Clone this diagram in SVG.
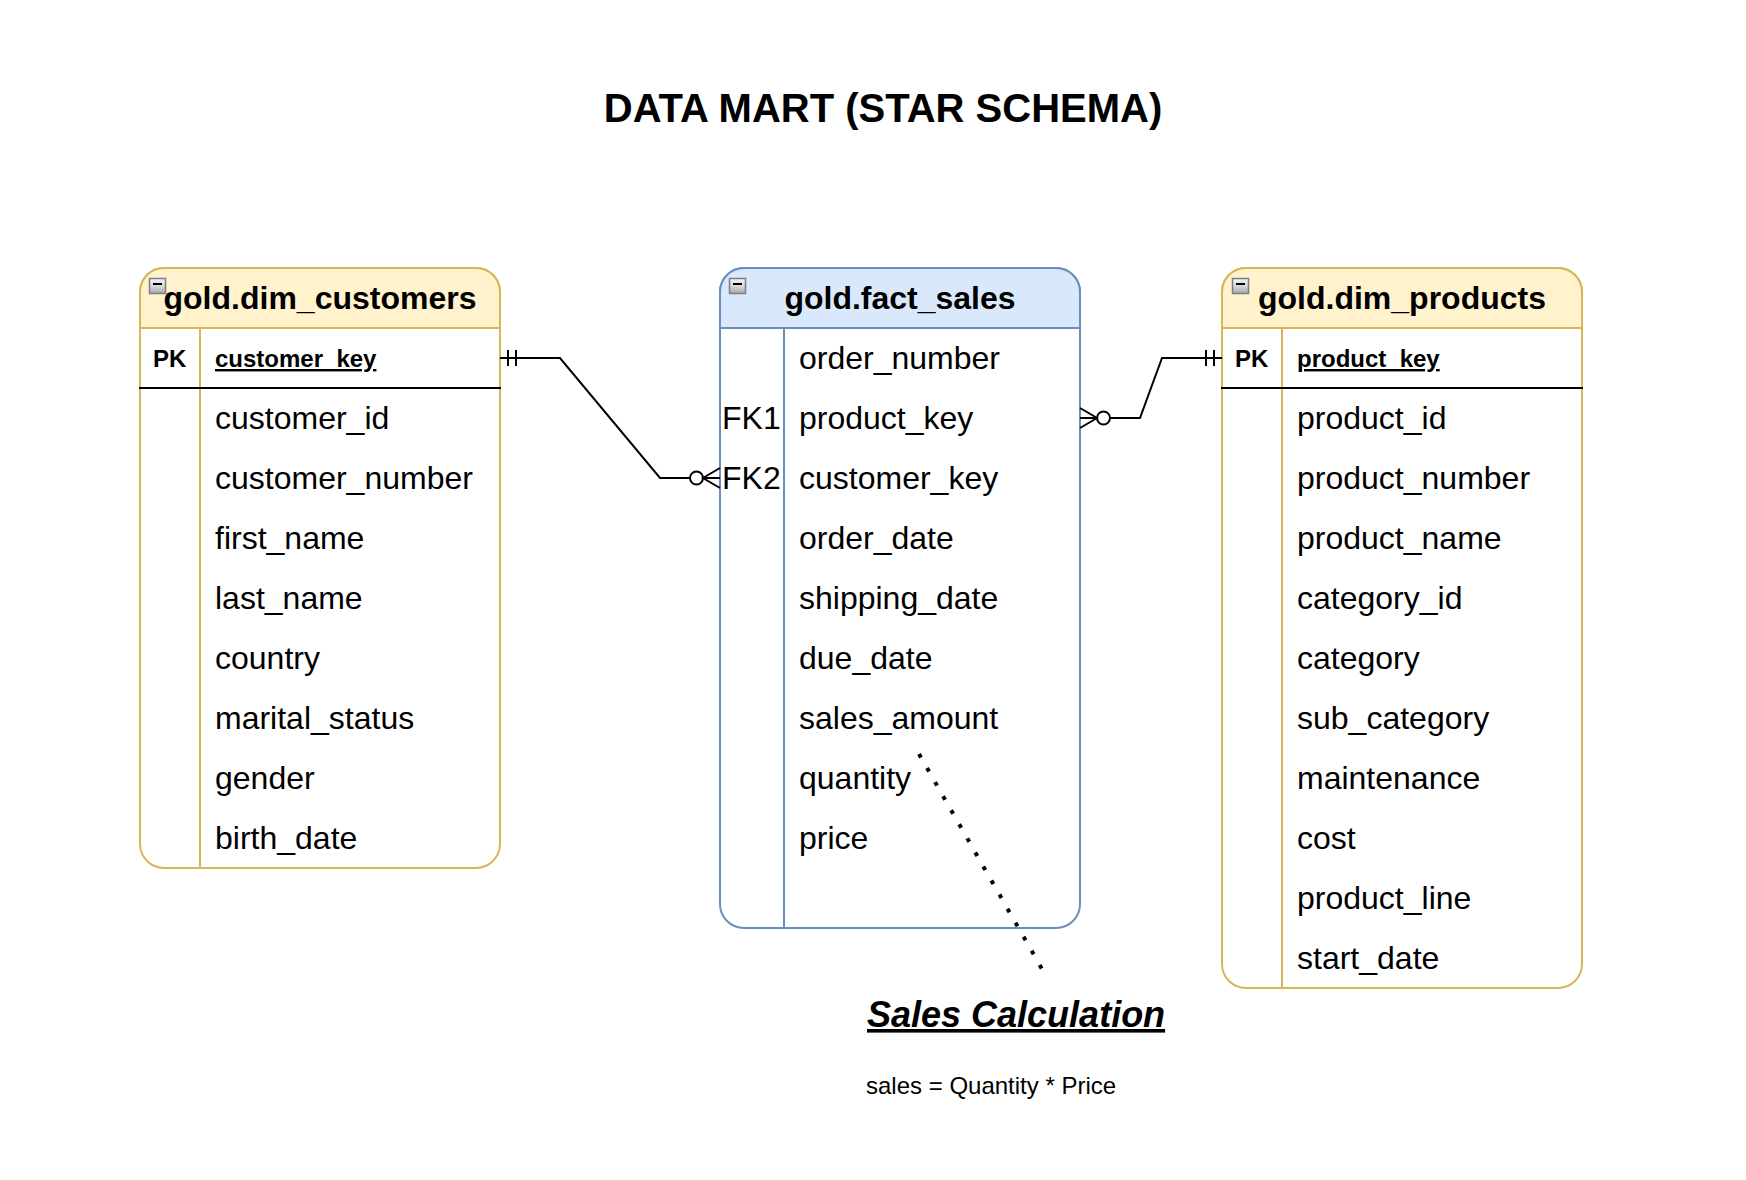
<svg xmlns="http://www.w3.org/2000/svg" width="1746" height="1180" viewBox="0 0 1746 1180">
<defs>
<linearGradient id="ig" x1="0" y1="0" x2="0" y2="1">
<stop offset="0" stop-color="#f4f4f4"/>
<stop offset="0.5" stop-color="#d8d8d8"/>
<stop offset="1" stop-color="#a8a8a8"/>
</linearGradient>
<g id="icon">
<rect x="0.5" y="0.5" width="16" height="15" fill="url(#ig)" stroke="#7a7f8c" stroke-width="1.5"/>
<line x1="4" y1="6" x2="13" y2="6" stroke="#000" stroke-width="2"/>
</g>
</defs>
<style>
text{font-family:"Liberation Sans",Arial,Helvetica,sans-serif;fill:#000}
.title{font-size:40px;font-weight:bold}
.hdr{font-size:32px;font-weight:bold}
.row{font-size:32px}
.pk{font-size:24px;font-weight:bold}
.pku{font-size:24px;font-weight:bold;text-decoration:underline}
.y{stroke:#d6b656;stroke-width:2}
.b{stroke:#6c8ebf;stroke-width:2}
.sep{stroke:#000;stroke-width:2}
.conn{fill:none;stroke:#000;stroke-width:2}
.calc{font-size:36px;font-weight:bold;font-style:italic;text-decoration:underline}
.note{font-size:24px}
</style>
<rect width="1746" height="1180" fill="#fff"/>
<text class="title" x="883" y="122" text-anchor="middle">DATA MART (STAR SCHEMA)</text>

<g id="dim_customers">
<rect x="140" y="268" width="360" height="600" rx="24" fill="#fff" class="y"/>
<path d="M140,328 V292 A24,24 0 0 1 164,268 H476 A24,24 0 0 1 500,292 V328 Z" fill="#fff2cc" class="y"/>
<line x1="200" y1="328" x2="200" y2="868" class="y"/>
<line x1="139" y1="388" x2="501" y2="388" class="sep"/>
<use href="#icon" x="149" y="278"/>
<text class="hdr" x="320" y="309" text-anchor="middle">gold.dim_customers</text>
<text class="pk" x="153" y="367">PK</text>
<text class="pku" x="215" y="367">customer_key</text>
<text class="row" x="215" y="429">customer_id</text>
<text class="row" x="215" y="489">customer_number</text>
<text class="row" x="215" y="549">first_name</text>
<text class="row" x="215" y="609">last_name</text>
<text class="row" x="215" y="669">country</text>
<text class="row" x="215" y="729">marital_status</text>
<text class="row" x="215" y="789">gender</text>
<text class="row" x="215" y="849">birth_date</text>
</g>

<g id="fact_sales">
<rect x="720" y="268" width="360" height="660" rx="24" fill="#fff" class="b"/>
<path d="M720,328 V292 A24,24 0 0 1 744,268 H1056 A24,24 0 0 1 1080,292 V328 Z" fill="#dae8fc" class="b"/>
<line x1="784" y1="328" x2="784" y2="928" class="b"/>
<use href="#icon" x="729" y="278"/>
<text class="hdr" x="900" y="309" text-anchor="middle">gold.fact_sales</text>
<text class="row" x="799" y="369">order_number</text>
<text class="row" x="722" y="429">FK1</text>
<text class="row" x="799" y="429">product_key</text>
<text class="row" x="722" y="489">FK2</text>
<text class="row" x="799" y="489">customer_key</text>
<text class="row" x="799" y="549">order_date</text>
<text class="row" x="799" y="609">shipping_date</text>
<text class="row" x="799" y="669">due_date</text>
<text class="row" x="799" y="729">sales_amount</text>
<text class="row" x="799" y="789">quantity</text>
<text class="row" x="799" y="849">price</text>
</g>

<g id="dim_products">
<rect x="1222" y="268" width="360" height="720" rx="24" fill="#fff" class="y"/>
<path d="M1222,328 V292 A24,24 0 0 1 1246,268 H1558 A24,24 0 0 1 1582,292 V328 Z" fill="#fff2cc" class="y"/>
<line x1="1282" y1="328" x2="1282" y2="988" class="y"/>
<line x1="1221" y1="388" x2="1583" y2="388" class="sep"/>
<use href="#icon" x="1232" y="278"/>
<text class="hdr" x="1402" y="309" text-anchor="middle">gold.dim_products</text>
<text class="pk" x="1235" y="367">PK</text>
<text class="pku" x="1297" y="367">product_key</text>
<text class="row" x="1297" y="429">product_id</text>
<text class="row" x="1297" y="489">product_number</text>
<text class="row" x="1297" y="549">product_name</text>
<text class="row" x="1297" y="609">category_id</text>
<text class="row" x="1297" y="669">category</text>
<text class="row" x="1297" y="729">sub_category</text>
<text class="row" x="1297" y="789">maintenance</text>
<text class="row" x="1297" y="849">cost</text>
<text class="row" x="1297" y="909">product_line</text>
<text class="row" x="1297" y="969">start_date</text>
</g>

<g id="connectors">
<path class="conn" d="M500,358 H560 L660,478 H690"/>
<path class="conn" d="M508,350 V366 M516,350 V366"/>
<circle class="conn" cx="696.5" cy="478" r="6.5"/>
<path class="conn" d="M720,468 L703,478 L720,488 M703,478 H720"/>
<path class="conn" d="M1222,358 H1162 L1140,418 H1110"/>
<path class="conn" d="M1206,350 V366 M1214,350 V366"/>
<circle class="conn" cx="1103.5" cy="418" r="6.5"/>
<path class="conn" d="M1080,408 L1097,418 L1080,428 M1080,418 H1097"/>
<path d="M919,754 L1042,969" fill="none" stroke="#000" stroke-width="4" stroke-dasharray="4 12.2"/>
</g>

<g id="sales_calc">
<text class="calc" x="867" y="1027">Sales Calculation</text>
<text class="note" x="866" y="1094">sales = Quantity * Price</text>
</g>
</svg>
